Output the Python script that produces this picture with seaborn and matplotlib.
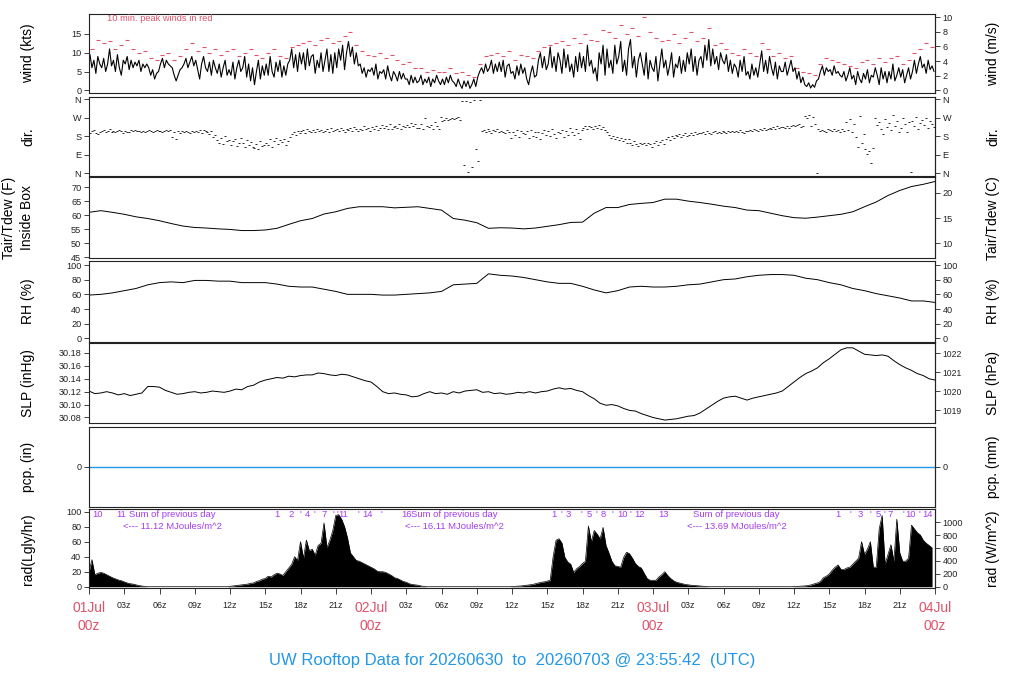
import numpy as np
import matplotlib
matplotlib.use("Agg")
import matplotlib.pyplot as plt
import seaborn as sns

# ---------------- data (hours counted from 01Jul 00z) ----------------
# 10-minute mean wind speed (kts), 6 values per hour
wind_kts = [
    9.5, 6, 8, 4.5, 9, 7,
    6, 8.5, 5, 7, 11, 6.5,
    8, 5, 9.5, 6, 4, 8,
    7, 9, 5.5, 8, 6, 7.5,
    6.5, 8, 5, 7, 6, 7,
    6, 4, 5.5, 3, 4.5, 5,
    7, 8.5, 6, 8, 7, 6.5,
    6, 4, 2.5, 4, 5.5, 6,
    7, 8.5, 6, 7.5, 9, 6.5,
    8, 5.5, 3, 7, 9, 6,
    5, 7.5, 4, 8, 6, 4.5,
    7, 3.5, 6, 8, 4, 5.5,
    4, 7.5, 3, 6, 8, 5,
    6, 9, 3.5, 7, 2.5, 6,
    1.5, 5, 8, 3, 6.5, 4,
    7, 4, 9, 5, 3.5, 7.5,
    5, 8, 3.5, 6.5, 4, 7,
    8, 11, 6, 9.5, 5, 10,
    7, 10, 5.5, 11, 6.5, 9,
    9.5, 4.5, 8, 6, 10, 5,
    8, 11, 5, 9.5, 4.5, 10,
    6, 11, 8, 12, 5.5, 10,
    13, 9, 11.5, 7, 10, 6.5,
    7, 4.5, 6, 3.5, 5.5, 5,
    6, 4, 7, 3, 5, 4.5,
    5.5, 3, 6.5, 4, 2.5, 5,
    4, 2.5, 5, 3, 4.5, 3,
    3, 1.5, 4, 2, 3.5, 2,
    2.5, 4, 1.5, 3, 2, 3.5,
    1, 3, 2, 4, 2.5, 1.5,
    3, 1.5, 3.5, 2, 4, 2.5,
    2, 1, 3, 1.5, 0.5, 2.5,
    1, 2.5, 0.5, 1.5, 3, 1,
    3.5, 5, 6, 4.5, 7, 5,
    6, 8, 4.5, 7, 5, 7.5,
    5, 8, 3.5, 6.5, 7, 4.5,
    5, 3, 6.5, 4, 7, 4.5,
    6, 3, 1.5, 4.5, 6.5, 3.5,
    4, 8, 10, 6, 9, 5.5,
    7, 11.5, 6, 9, 5, 10,
    8, 4.5, 11, 6, 9.5, 5,
    7, 3.5, 9, 5, 10, 6,
    9, 5, 12, 6.5, 8, 4.5,
    6, 2.5, 10, 7, 12, 4,
    11, 6, 8, 4.5, 12, 7,
    9, 13, 5, 8, 4, 11,
    13.5, 6, 9, 3.5, 8, 10,
    7, 4, 10, 3, 8, 6,
    5, 9, 2.5, 7, 11, 6,
    8, 4, 6.5, 10, 3.5, 7,
    6, 9, 4.5, 8, 5, 10,
    7, 11, 5, 9, 4, 8,
    9, 6, 12, 8, 13.5, 6.5,
    11, 7, 9, 5.5, 10, 8,
    7, 9.5, 5, 8, 4.5, 7,
    6, 3.5, 8, 5, 9, 4,
    5, 3, 7, 4, 6, 3.5,
    7, 10.5, 5, 8, 4.5, 9,
    6, 4, 7.5, 3, 6.5, 5,
    5, 7.5, 4, 6, 8, 5,
    6, 3, 5, 2, 3.5, 1.5,
    1, 2, 0.6, 1.5, 0.8, 2.5,
    3, 5, 6.5, 4, 6, 5,
    5.5, 4, 6.5, 4.5, 5, 4,
    3.5, 5, 2.5, 4, 6, 3,
    4, 1.5, 5, 3, 2, 4.5,
    3, 5.5, 2, 4, 3.5, 6,
    4, 1.5, 6, 3, 5, 2,
    5, 3, 7, 2.5, 4, 6,
    3.5, 5.5, 2, 4, 6, 3,
    5, 8, 4.5, 7, 9, 6,
    7, 4.5, 8, 5.5, 6.5, 5,
]

# 10-minute peak winds (kts), 2 values per hour
peak_kts = [
    11, 13.5, 12.5, 13, 11, 12, 13.5, 11, 10, 10.5, 8.5, 8,
    9.5, 10, 8, 9, 11, 12.5, 10.5, 11.5, 10, 11, 9.5, 10.5,
    11, 9, 10, 11, 9.5, 8.5, 10, 11, 9, 8.5, 11.5, 12,
    12.5, 13, 12, 13.5, 14, 12.5, 13, 14.5, 15.5, 12, 10.5, 9.5,
    9, 10, 8.5, 9.5, 8, 7, 7.5, 6, 6, 5, 5.5, 5,
    5, 6, 4.5, 5, 4, 3.5, 7, 9, 9.5, 10, 9, 10.5,
    8, 9.5, 9, 8.5, 10.5, 11.5, 12, 12.5, 13, 12, 14, 12.5,
    15, 13.5, 13, 16, 15.5, 14, 17.5, 15, 16.5, 14.5, 19.4, 15.5,
    14, 13, 13.5, 15, 12.5, 14, 15.5, 13, 14, 16.5, 12, 12.5,
    11, 10, 9.5, 11, 10, 9, 12.5, 11, 9, 10, 8.5, 9,
    6, 5, 4.5, 4, 7, 8.5, 8, 7.5, 7, 6.5, 6, 7.5,
    8, 7, 8.5, 7.5, 8.5, 9, 7, 8, 10, 11, 12.5, 11.5,
]

# wind direction (deg, 0 = N), 6 values per hour
dir_deg = [
    195, 205, 210, 198, 190, 203,
    207, 212, 200, 205, 215, 202,
    205, 200, 208, 210, 204, 198,
    206, 203, 200, 209, 205, 211,
    204, 208, 200, 206, 203, 207,
    210, 205, 201, 207, 212, 204,
    208, 203, 206, 211, 205, 209,
    175, 200, 168, 205, 198, 204,
    203, 207, 200, 195, 205, 202,
    208, 200, 210, 196, 212, 205,
    200, 190, 205, 175, 185, 160,
    150, 170, 145, 180, 155, 162,
    140, 158, 165, 135, 150, 172,
    148, 128, 160, 138, 152, 130,
    125, 145, 118, 155, 132, 140,
    150, 138, 165, 128, 155, 170,
    145, 160, 152, 168, 140, 158,
    175, 190, 200, 185, 205, 195,
    205, 210, 198, 215, 207, 200,
    210, 202, 218, 205, 212, 200,
    206, 214, 200, 220, 208, 212,
    215, 205, 222, 210, 200, 218,
    212, 220, 205, 225, 215, 208,
    218, 210, 228, 215, 222, 205,
    225, 215, 230, 210, 220, 235,
    222, 230, 215, 240, 218, 226,
    230, 220, 238, 215, 232, 225,
    235, 225, 245, 228, 238, 220,
    220, 240, 215, 270, 230, 225,
    235, 218, 250, 228, 215, 275,
    255, 262, 270, 258, 265, 268,
    265, 270, 272, 262, 350, 40,
    352, 5, 345, 30, 355, 120,
    60, 355, 205, 210, 200, 215,
    205, 198, 212, 208, 215, 200,
    207, 200, 195, 210, 203, 170,
    200, 185, 210, 175, 205, 195,
    190, 205, 170, 212, 182, 200,
    175, 200, 165, 195, 210, 185,
    205, 180, 215, 190, 170, 200,
    195, 210, 175, 205, 185, 220,
    200, 185, 215, 195, 165, 210,
    220, 228, 215, 232, 225, 218,
    230, 222, 235, 218, 225, 210,
    200, 185, 170, 180, 165, 175,
    160, 172, 155, 168, 150, 165,
    150, 140, 155, 145, 135, 150,
    142, 150, 138, 148, 145, 130,
    148, 155, 140, 152, 160, 145,
    165, 175, 160, 180, 170, 185,
    180, 190, 175, 185, 195, 182,
    188, 195, 185, 200, 190, 198,
    195, 200, 192, 205, 198, 190,
    200, 205, 198, 203, 195, 207,
    203, 198, 206, 200, 208, 202,
    205, 200, 210, 203, 198, 207,
    208, 212, 205, 215, 210, 206,
    215, 210, 220, 212, 218, 222,
    218, 225, 215, 228, 220, 224,
    225, 220, 230, 222, 228, 235,
    228, 235, 240, 225, 232, 278,
    270, 285, 230, 275, 240, 2,
    215, 205, 212, 208, 200, 215,
    210, 205, 215, 208, 212, 203,
    215, 205, 250, 210, 265, 200,
    240, 175, 130, 280, 150, 190,
    120, 95, 110, 50, 125, 270,
    235, 250, 215, 190, 265, 225,
    245, 210, 285, 230, 255, 200,
    220, 270, 240, 200, 250, 5,
    255, 230, 275, 215, 245, 260,
    235, 270, 220, 255, 240, 225,
]

# hourly inside-box temperature (F), 00z 01Jul .. 00z 04Jul
temp_f = [
    61.1, 61.7, 61.1, 60.4, 59.5, 58.9, 58.1, 57.1, 56.2, 55.7,
    55.5, 55.2, 55.0, 54.6, 54.6, 54.8, 55.4, 56.8, 58.1, 58.9,
    60.5, 61.3, 62.5, 63.1, 63.1, 63.1, 62.7, 62.9, 63.1, 62.5,
    61.9, 58.9, 58.3, 57.4, 55.4, 55.6, 55.5, 55.2, 55.5, 56.1,
    56.7, 57.5, 57.6, 60.8, 62.8, 62.8, 63.9, 64.3, 64.6, 65.8,
    65.8, 65.1, 64.6, 64.0, 63.3, 62.8, 61.9, 61.7, 60.8, 59.9,
    59.2, 59.0, 59.4, 59.9, 60.4, 61.3, 63.1, 64.8, 67.1, 68.9,
    70.3, 71.1, 72.1,
]

# hourly relative humidity (%)
rh_pct = [
    59, 60, 62, 65, 68, 73, 76, 77, 76, 79,
    79, 78, 78, 76, 76, 76, 74, 71, 70, 70,
    67, 64, 60, 60, 60, 59, 59, 60, 61, 62,
    64, 73, 74, 75, 88, 86, 85, 83, 80, 77,
    75, 75, 71, 66, 62, 65, 70, 71, 70, 70,
    71, 73, 74, 77, 80, 81, 84, 86, 87, 87,
    86, 82, 80, 76, 73, 68, 65, 61, 58, 55,
    51, 51, 49,
]

# half-hourly sea level pressure (inHg)
slp_inhg = [
    30.121, 30.117, 30.118, 30.120, 30.118, 30.115, 30.117, 30.114, 30.116, 30.118,
    30.128, 30.128, 30.127, 30.122, 30.119, 30.116, 30.117, 30.119, 30.120, 30.118,
    30.119, 30.121, 30.120, 30.119, 30.121, 30.124, 30.123, 30.128, 30.130, 30.135,
    30.138, 30.140, 30.142, 30.141, 30.144, 30.143, 30.145, 30.146, 30.146, 30.149,
    30.148, 30.146, 30.145, 30.147, 30.146, 30.143, 30.140, 30.137, 30.135, 30.128,
    30.120, 30.117, 30.118, 30.116, 30.115, 30.112, 30.113, 30.117, 30.120, 30.117,
    30.118, 30.116, 30.120, 30.118, 30.121, 30.122, 30.123, 30.119, 30.120, 30.117,
    30.118, 30.116, 30.117, 30.119, 30.118, 30.120, 30.118, 30.120, 30.121, 30.124,
    30.126, 30.124, 30.125, 30.122, 30.120, 30.114, 30.109, 30.102, 30.099, 30.100,
    30.098, 30.094, 30.091, 30.090, 30.086, 30.083, 30.080, 30.078, 30.076, 30.077,
    30.078, 30.080, 30.082, 30.083, 30.087, 30.093, 30.099, 30.105, 30.110, 30.112,
    30.113, 30.110, 30.107, 30.110, 30.112, 30.114, 30.116, 30.118, 30.121, 30.128,
    30.135, 30.142, 30.148, 30.152, 30.157, 30.165, 30.171, 30.178, 30.185, 30.188,
    30.188, 30.183, 30.178, 30.177, 30.176, 30.177, 30.175, 30.168, 30.162, 30.157,
    30.153, 30.148, 30.145, 30.140, 30.138,
]

# hourly precipitation (in)
pcp_in = [
    0, 0, 0, 0, 0, 0, 0, 0, 0, 0,
    0, 0, 0, 0, 0, 0, 0, 0, 0, 0,
    0, 0, 0, 0, 0, 0, 0, 0, 0, 0,
    0, 0, 0, 0, 0, 0, 0, 0, 0, 0,
    0, 0, 0, 0, 0, 0, 0, 0, 0, 0,
    0, 0, 0, 0, 0, 0, 0, 0, 0, 0,
    0, 0, 0, 0, 0, 0, 0, 0, 0, 0,
    0, 0, 0,
]

# 15-minute solar radiation (Langley/hr), 4 values per hour
rad_ly = [
    20, 36, 16, 18,   19, 18, 16, 14,   12, 10.5, 9, 8,   6.5, 5, 4, 3.5,
    2.5, 1.5, 1, 0.3,   0, 0, 0, 0,   0, 0, 0, 0,   0, 0, 0, 0,
    0, 0, 0, 0,   0, 0, 0, 0,   0, 0, 0, 0,   0, 0, 0, 0,
    0.5, 1, 1.5, 2,   2.5, 3, 3.5, 4.5,   5, 7, 8, 10,   11, 14, 13, 16,
    18, 17, 15, 20,   25, 30, 40, 35,   60, 38, 62, 48,   50, 42, 55, 58,
    85, 52, 62, 75,   95, 96, 90, 80,   65, 45, 40, 35,   34, 32, 30, 28,
    26, 24, 21, 20,   20, 19, 17, 15,   12, 11, 9, 7,   6, 4, 3, 2.5,
    2, 1, 0.5, 0,   0, 0, 0, 0,   0, 0, 0, 0,   0, 0, 0, 0,
    0, 0, 0, 0,   0, 0, 0, 0,   0, 0, 0, 0,   0, 0, 0, 0,
    0.3, 0.5, 0.8, 1,   1.5, 2, 2.5, 3,   4, 5, 6, 6.5,   7.5, 8.5, 40, 62,
    64, 58, 39, 33,   30, 19, 24, 27,   31, 34, 81, 60,   75, 70, 64, 79,
    55, 45, 34, 28,   27, 26, 39, 46,   44, 38, 31, 27,   25, 18, 11, 8.6,
    8.6, 8.6, 13, 16,   20, 15, 11, 8,   6, 5, 4, 3,   2.5, 2, 1.7, 1.3,
    1, 0.6, 0.3, 0,   0, 0, 0, 0,   0, 0, 0, 0,   0, 0, 0, 0,
    0, 0, 0, 0,   0, 0, 0, 0,   0, 0, 0, 0,   0, 0, 0, 0,
    0.2, 0.4, 0.6, 0.9,   1.2, 1.8, 2.6, 4,   5, 7, 12, 14,   17, 22, 26, 29,
    23, 23, 25, 26,   30, 34, 38, 60,   43, 50, 60, 26,   26, 77, 95, 30,
    43, 56, 34, 90,   45, 34, 34, 38,   82, 77, 72, 69,   62, 58, 55, 52,
]

# hourly cumulative radiation marks (hour, label) and daily sums
cum_hours = [0.74, 2.7, 16.0, 17.2, 18.0, 18.6, 19.2, 20.0, 20.8, 21.1, 21.6, 22.9,
             23.7, 24.9, 27.05, 39.6, 40.2, 40.8, 41.9, 42.6, 43.2, 43.8, 44.5, 45.4,
             46.1, 46.9, 48.9, 63.7, 64.8, 65.6, 66.5, 67.2, 67.7, 68.2, 69.3, 69.9,
             70.7, 71.4]
cum_labels = ["10", "11", "1", "2", "'", "4", "'", "7", "'", "'", "11", "'",
              "14", "'", "16", "1", "'", "3", "'", "5", "'", "8", "'", "10",
              "'", "12", "13", "1", "'", "3", "'", "5", "'", "7", "'", "10",
              "'", "14"]
sum_hours = [2.92, 26.9, 50.9]
sum_mj = [11.12, 16.11, 13.69]

day_labels = ["01Jul", "02Jul", "03Jul", "04Jul"]
title_text = "UW Rooftop Data for 20260630  to  20260703 @ 23:55:42  (UTC)"

# ---------------- style ----------------
sns.set_theme(style="ticks")
plt.rcParams["font.family"] = ["Liberation Sans", "DejaVu Sans"]
plt.rcParams["axes.linewidth"] = 0.8
plt.rcParams["axes.edgecolor"] = "#222222"

RED = "#DF536B"
BLUE = "#2297E6"
PURPLE = "#A43CF0"
TICKC = "#222222"

W, H = 1024.0, 700.0
X0, X1 = 89.0, 935.0
panels = [(14.0, 93.3), (96.7, 176.0), (177.3, 258.3), (260.7, 341.7),
          (343.3, 423.3), (426.7, 506.7), (509.3, 588.3)]

fig = plt.figure(figsize=(10.24, 7.0), dpi=100)
axes = []
for top, bot in panels:
    ax = fig.add_axes([X0 / W, 1 - bot / H, (X1 - X0) / W, (bot - top) / H])
    ax.set_xlim(0, 72)
    ax.tick_params(axis="x", bottom=False, labelbottom=False)
    ax.tick_params(axis="y", direction="out", length=3.5, width=0.6,
                   labelsize=6.6, pad=2, colors=TICKC)
    for s in ax.spines.values():
        s.set_visible(True)
    axes.append(ax)


def panel_center(i):
    top, bot = panels[i]
    return 1 - 0.5 * (top + bot) / H


def right_axis(i, f, finv, ticks, labels=None, label="", size=6.6):
    ax = axes[i]
    sec = ax.secondary_yaxis("right", functions=(f, finv))
    sec.set_yticks(ticks)
    if labels is not None:
        sec.set_yticklabels(labels)
    sec.tick_params(direction="out", length=3.5, width=0.6, labelsize=size,
                    pad=2, colors=TICKC)
    sec.set_ylabel("")
    fig.text(993 / W, panel_center(i), label, rotation=90, ha="center",
             va="center", fontsize=10, color="black")
    return sec


def left_label(i, text, xpx=28.0, **kw):
    axes[i].set_ylabel("")
    fig.text(xpx / W, panel_center(i), text, rotation=90, ha="center",
             va="center", fontsize=10, color="black", **kw)


t10 = np.arange(len(wind_kts)) / 6.0 + 1 / 12.0
t30 = np.arange(len(peak_kts)) * 0.5 + 0.25
tdir = np.arange(len(dir_deg)) / 6.0 + 1 / 12.0
thr = np.arange(len(temp_f)) * 1.0
tslp = np.arange(len(slp_inhg)) * 0.5
trad = np.arange(len(rad_ly)) * 0.25

# 1 wind
ax = axes[0]
sns.lineplot(x=t10, y=wind_kts, ax=ax, color="black", lw=0.8, estimator=None)
sns.scatterplot(x=t30, y=peak_kts, ax=ax, marker="_", s=7, color=RED,
                linewidth=0.8)
ax.set_ylim(-0.8, 20.3)
ax.set_yticks([0, 5, 10, 15])
left_label(0, "wind (kts)")
right_axis(0, lambda k: k / 1.94384, lambda m: m * 1.94384,
           [0, 2, 4, 6, 8, 10], label="wind (m/s)")
ax.text(0.021, 0.94, "10 min. peak winds in red", transform=ax.transAxes,
        fontsize=6.7, color=RED, va="center", ha="left")

# 2 direction
ax = axes[1]
sns.scatterplot(x=tdir, y=dir_deg, ax=ax, marker="_", s=4, color="black",
                linewidth=0.6)
ax.set_ylim(-13, 373)
ax.set_yticks([0, 90, 180, 270, 360])
ax.set_yticklabels(["N", "E", "S", "W", "N"])
left_label(1, "dir.")
right_axis(1, lambda d: d, lambda d: d, [0, 90, 180, 270, 360],
           ["N", "E", "S", "W", "N"], label="dir.")

# 3 temperature
ax = axes[2]
sns.lineplot(x=thr, y=temp_f, ax=ax, color="black", lw=0.7, estimator=None)
ax.set_ylim(44.7, 73.6)
ax.set_yticks([45, 50, 55, 60, 65, 70])
left_label(2, "Tair/Tdew (F)\nInside Box", xpx=18.0, linespacing=1.45)
right_axis(2, lambda f: (f - 32) / 1.8, lambda c: c * 1.8 + 32,
           [10, 15, 20], label="Tair/Tdew (C)")

# 4 RH
ax = axes[3]
sns.lineplot(x=thr, y=rh_pct, ax=ax, color="black", lw=0.7, estimator=None)
ax.set_ylim(-4.6, 105.9)
ax.set_yticks([0, 20, 40, 60, 80, 100])
left_label(3, "RH (%)")
right_axis(3, lambda v: v, lambda v: v, [0, 20, 40, 60, 80, 100],
           label="RH (%)")

# 5 SLP
ax = axes[4]
sns.lineplot(x=tslp, y=slp_inhg, ax=ax, color="black", lw=0.7, estimator=None)
ax.set_ylim(30.071, 30.195)
ax.set_yticks([30.08, 30.10, 30.12, 30.14, 30.16, 30.18])
ax.set_yticklabels(["30.08", "30.10", "30.12", "30.14", "30.16", "30.18"])
left_label(4, "SLP (inHg)")
right_axis(4, lambda p: p * 33.8639, lambda h: h / 33.8639,
           [1019, 1020, 1021, 1022], label="SLP (hPa)", size=6.2)

# 6 precipitation
ax = axes[5]
sns.lineplot(x=thr, y=pcp_in, ax=ax, color=BLUE, lw=1.0, estimator=None)
ax.set_ylim(-1, 1)
ax.set_yticks([0])
left_label(5, "pcp. (in)")
right_axis(5, lambda v: v * 25.4, lambda v: v / 25.4, [0], label="pcp. (mm)")

# 7 radiation
ax = axes[6]
ax.fill_between(trad, rad_ly, 0, color="black", lw=0)
sns.lineplot(x=trad, y=rad_ly, ax=ax, color="black", lw=0.5, estimator=None)
ax.set_ylim(-2.1, 103.2)
ax.set_yticks([0, 20, 40, 60, 80, 100])
left_label(6, "rad(Lgly/hr)")
right_axis(6, lambda v: v * 11.63, lambda v: v / 11.63,
           [0, 200, 400, 600, 800, 1000], label="rad (W/m^2)")
for h, lab in zip(cum_hours, cum_labels):
    ax.text(h, 96.5, lab, fontsize=6.8, color=PURPLE, ha="center", va="center")
for h, mj in zip(sum_hours, sum_mj):
    ax.text(h + 0.5, 96.5, "Sum of previous day", fontsize=6.8, color=PURPLE,
            ha="left", va="center")
    ax.text(h, 80, "<--- %.2f MJoules/m^2" % mj, fontsize=6.8, color=PURPLE,
            ha="left", va="center")

xt = list(range(0, 73, 3))
xl = []
for h in xt:
    if h % 24 == 0:
        xl.append(day_labels[h // 24] + "\n00z")
    else:
        xl.append("%02dz" % (h % 24))
ax.set_xticks(xt)
ax.set_xticklabels(xl)
ax.tick_params(axis="x", bottom=True, labelbottom=True, direction="out",
               length=4.3, width=0.6, labelsize=6.4, pad=5, colors=TICKC)
for h, lab in zip(xt, ax.get_xticklabels()):
    if h % 24 == 0:
        lab.set_color(RED)
        lab.set_fontsize(10)
        lab.set_linespacing(1.35)

for a in axes:
    a.set_xlabel("")

fig.text(0.5, 1 - 660 / H, title_text, ha="center", va="center",
         fontsize=12, color=BLUE)

fig.savefig("out.png", dpi=100)
